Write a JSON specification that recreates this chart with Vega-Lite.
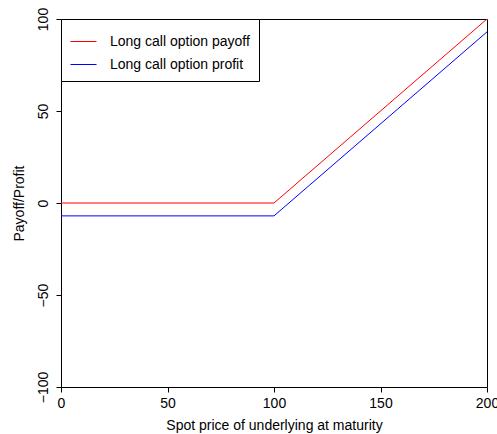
{
  "$schema": "https://vega.github.io/schema/vega-lite/v6.json",
  "width": 426,
  "height": 368,
  "autosize": "none",
  "padding": {"left": 61, "top": 19, "right": 10, "bottom": 47},
  "background": "white",
  "config": {
    "font": "Liberation Sans",
    "view": {"stroke": "black", "strokeWidth": 1},
    "axis": {
      "domain": false,
      "grid": false,
      "tickColor": "black",
      "tickSize": 5,
      "labelFontSize": 14,
      "labelColor": "black",
      "titleFontSize": 14,
      "titleFontWeight": "normal",
      "titleColor": "black"
    }
  },
  "data": {
    "values": [
      {"price": 0, "value": 0, "series": "Long call option payoff"},
      {"price": 100, "value": 0, "series": "Long call option payoff"},
      {"price": 200, "value": 100, "series": "Long call option payoff"},
      {"price": 0, "value": -7, "series": "Long call option profit"},
      {"price": 100, "value": -7, "series": "Long call option profit"},
      {"price": 200, "value": 93, "series": "Long call option profit"}
    ]
  },
  "mark": {"type": "line", "strokeWidth": 1, "clip": true},
  "encoding": {
    "x": {
      "field": "price",
      "type": "quantitative",
      "scale": {"domain": [0, 200], "nice": false, "zero": false},
      "axis": {"values": [0, 50, 100, 150, 200], "labelPadding": 4, "titlePadding": 8, "labelFlush": false, "title": "Spot price of underlying at maturity"}
    },
    "y": {
      "field": "value",
      "type": "quantitative",
      "scale": {"domain": [-100, 100], "nice": false, "zero": false},
      "axis": {"values": [-100, -50, 0, 50, 100], "labelAngle": 270, "labelAlign": "center", "labelBaseline": "bottom", "labelPadding": 6, "labelFlush": false, "titlePadding": 10, "title": "Payoff/Profit"}
    },
    "color": {
      "field": "series",
      "type": "nominal",
      "scale": {"domain": ["Long call option payoff", "Long call option profit"], "range": ["#FF0000", "#0000FF"]},
      "legend": {
        "title": null,
        "orient": "top-left",
        "offset": 0,
        "strokeColor": "black",
        "fillColor": "white",
        "padding": 9,
        "symbolType": "stroke",
        "symbolSize": 676,
        "symbolStrokeWidth": 1,
        "labelFontSize": 14,
        "labelColor": "black",
        "labelOffset": 13,
        "rowPadding": 2,
        "labelLimit": 300
      }
    }
  }
}
